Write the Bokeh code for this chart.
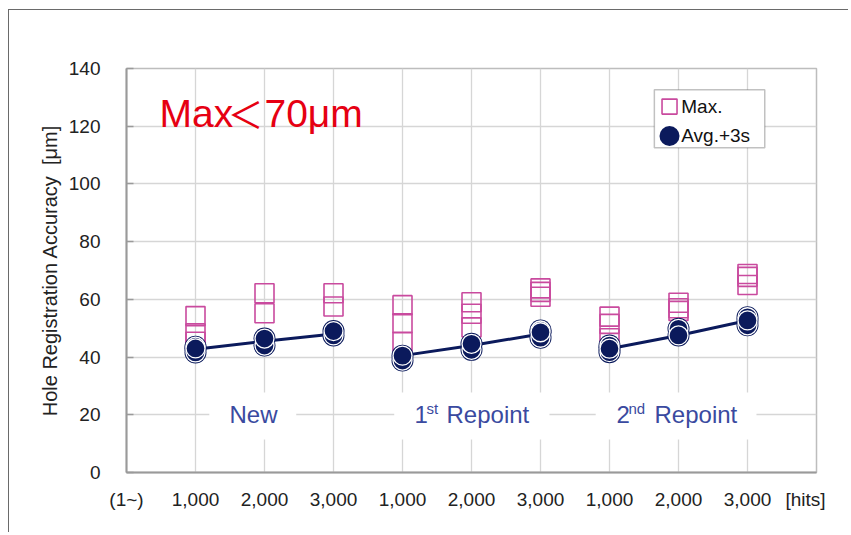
from bokeh.plotting import figure
from bokeh.models import Range1d, FixedTicker, Label, BoxAnnotation, ColumnDataSource
from bokeh.embed import file_html
from bokeh.resources import INLINE

# ---------------- data ----------------
positions = [1, 2, 3, 4, 5, 6, 7, 8, 9]
x_tick_positions = [0, 1, 2, 3, 4, 5, 6, 7, 8, 9]
x_tick_labels = ["(1~)", "1,000", "2,000", "3,000", "1,000", "2,000", "3,000", "1,000", "2,000", "3,000"]
y_ticks = [0, 20, 40, 60, 80, 100, 120, 140]
groups = ["New", "1st Repoint", "2nd Repoint"]
series_names = ["Max.", "Avg.+3s"]

# Max. samples at each position
max_vals = [
    [54.2, 48.2, 45.3],
    [62.1, 55.2],
    [62.1, 57.5],
    [58.0, 51.7, 45.3],
    [59.0, 55.0, 50.3],
    [63.8, 62.6, 60.9],
    [54.0, 51.5, 46.5],
    [58.8, 56.9, 56.0],
    [68.8, 67.8, 65.0],
]
# Avg.+3s samples at each position (last one drawn on top)
avg3s_vals = [
    [43.6, 41.6, 43.0],
    [44.0, 46.4],
    [47.5, 49.0],
    [38.8, 40.5],
    [42.5, 44.6],
    [46.7, 49.2, 48.6],
    [44.0, 41.7, 42.9],
    [49.8, 47.5],
    [53.8, 51.0, 52.7],
]
# connecting line (per group of three positions)
avg_line = [42.7, 45.5, 48.0, 40.5, 44.0, 48.0, 42.9, 47.5, 52.7]

NAVY = "#0b1a5c"
PINK = "#c94a9e"
GRID = "#d6d6d6"
FONT = "Liberation Sans"
GROUP_BLUE = "#3a4aa0"

p = figure(width=840, height=523, output_backend="svg", toolbar_location=None,
           x_range=Range1d(0, 10), y_range=Range1d(0, 140),
           min_border_left=117, min_border_right=33, min_border_top=58, min_border_bottom=61)
p.styles = {"margin-left": "8px", "margin-top": "8.5px",
            "border-top": "1.5px solid #6a6a6a", "border-left": "1.5px solid #6a6a6a"}

p.background_fill_color = "white"
p.outline_line_color = "#bdbdbd"
p.outline_line_width = 1.5

# grids
p.xgrid.ticker = FixedTicker(ticks=positions)
p.xgrid.grid_line_color = GRID
p.xgrid.grid_line_width = 1.3
p.ygrid.ticker = FixedTicker(ticks=y_ticks)
p.ygrid.grid_line_color = GRID
p.ygrid.grid_line_width = 1.3

# axes
hits_pos = 9.84
p.xaxis.ticker = FixedTicker(ticks=x_tick_positions + [hits_pos])
overrides = {t: l for t, l in zip(x_tick_positions, x_tick_labels)}
overrides[hits_pos] = "[hits]"
p.xaxis.major_label_overrides = overrides
p.xaxis.major_tick_line_color = None
p.xaxis.minor_tick_line_color = None
p.xaxis.axis_line_color = "#9a9a9a"
p.xaxis.axis_line_width = 2
p.xaxis.major_label_text_font = FONT
p.xaxis.major_label_text_font_size = "19px"
p.xaxis.major_label_text_color = "#222222"
p.xaxis.major_label_standoff = 10

p.yaxis.ticker = FixedTicker(ticks=y_ticks)
p.yaxis.major_tick_in = 7
p.yaxis.major_tick_out = 0
p.yaxis.major_tick_line_color = "#9a9a9a"
p.yaxis.major_tick_line_width = 1.5
p.yaxis.minor_tick_line_color = None
p.yaxis.axis_line_color = "#9a9a9a"
p.yaxis.axis_line_width = 2
p.yaxis.major_label_text_font = FONT
p.yaxis.major_label_text_font_size = "19px"
p.yaxis.major_label_text_color = "#222222"
p.yaxis.major_label_standoff = 26
p.yaxis.axis_label = "Hole Registration Accuracy \u00a0[\u03bcm]"
p.yaxis.axis_label_text_font = FONT
p.yaxis.axis_label_text_font_size = "20px"
p.yaxis.axis_label_text_font_style = "normal"
p.yaxis.axis_label_text_color = "#222222"
p.yaxis.axis_label_standoff = 5

# group label white boxes (cover gridlines)
for l, r in [(1.20, 2.46), (3.88, 6.13), (6.80, 9.13)]:
    p.add_layout(BoxAnnotation(left=l, right=r, bottom=11.4, top=27.7,
                               fill_color="white", fill_alpha=1.0, line_color=None, level="underlay"))

# legend box (drawn by hand so the keys match the reference size)
p.add_layout(BoxAnnotation(left=7.65, right=9.25, bottom=112.5, top=132.6,
                           fill_color="white", fill_alpha=1.0,
                           line_color="#333333", line_width=1.5, level="underlay"))

# data: connecting lines per group
for g in range(3):
    xs = positions[g * 3:g * 3 + 3]
    ys = avg_line[g * 3:g * 3 + 3]
    p.line(xs, ys, line_color=NAVY, line_width=3)

# squares
sq_x = [positions[i] for i, vals in enumerate(max_vals) for v in vals]
sq_y = [v for vals in max_vals for v in vals]
p.scatter(sq_x, sq_y, marker="square", size=19, fill_color=None,
          line_color=PINK, line_width=1.6)

# circles
c_x = [positions[i] for i, vals in enumerate(avg3s_vals) for v in vals]
c_y = [v for vals in avg3s_vals for v in vals]
csrc = ColumnDataSource(dict(x=c_x, y=c_y))
p.scatter("x", "y", source=csrc, marker="circle", size=22, fill_color=NAVY, line_color=None)
p.scatter("x", "y", source=csrc, marker="circle", size=19, fill_color=NAVY,
          line_color="white", line_width=1.3)

# legend keys and labels
p.scatter([7.87], [126.8], marker="square", size=15, fill_color="white",
          line_color=PINK, line_width=1.6)
p.scatter([7.87], [116.6], marker="circle", size=20, fill_color=NAVY, line_color=None)
for yy, name in zip([126.8, 116.9], series_names):
    p.add_layout(Label(x=8.04, y=yy, text=name, text_font=FONT, text_font_size="19px",
                       text_color="#111111", text_baseline="middle", text_align="left"))

# title annotation
p.add_layout(Label(x=0.478, y=124.5, text="Max", text_font=FONT,
                   text_font_size="39px", text_color="#e60012", text_baseline="middle"))
p.add_layout(Label(x=0.478, y=124.5, x_offset=68, text="\uff1c", text_font="Noto Sans CJK JP",
                   text_font_size="36px", text_color="#e60012", text_baseline="middle"))
p.add_layout(Label(x=0.478, y=124.5, x_offset=105, text="70\u03bcm", text_font=FONT,
                   text_font_size="39px", text_color="#e60012", text_baseline="middle"))

# group labels
def glabel(x, off, txt, size, yoff=0):
    p.add_layout(Label(x=x, y=20, x_offset=off, y_offset=yoff, text=txt, text_font=FONT,
                       text_font_size=size, text_color=GROUP_BLUE, text_baseline="middle",
                       text_align="left"))

glabel(1.84, -24, groups[0], "24px")
glabel(5, -57, "1", "24px")
glabel(5, -45, "st", "15px", 6)
glabel(5, -25, "Repoint", "24px")
glabel(8, -62, "2", "24px")
glabel(8, -50, "nd", "15px", 6)
glabel(8, -24, "Repoint", "24px")

open("out.html", "w").write(file_html(p, INLINE))
